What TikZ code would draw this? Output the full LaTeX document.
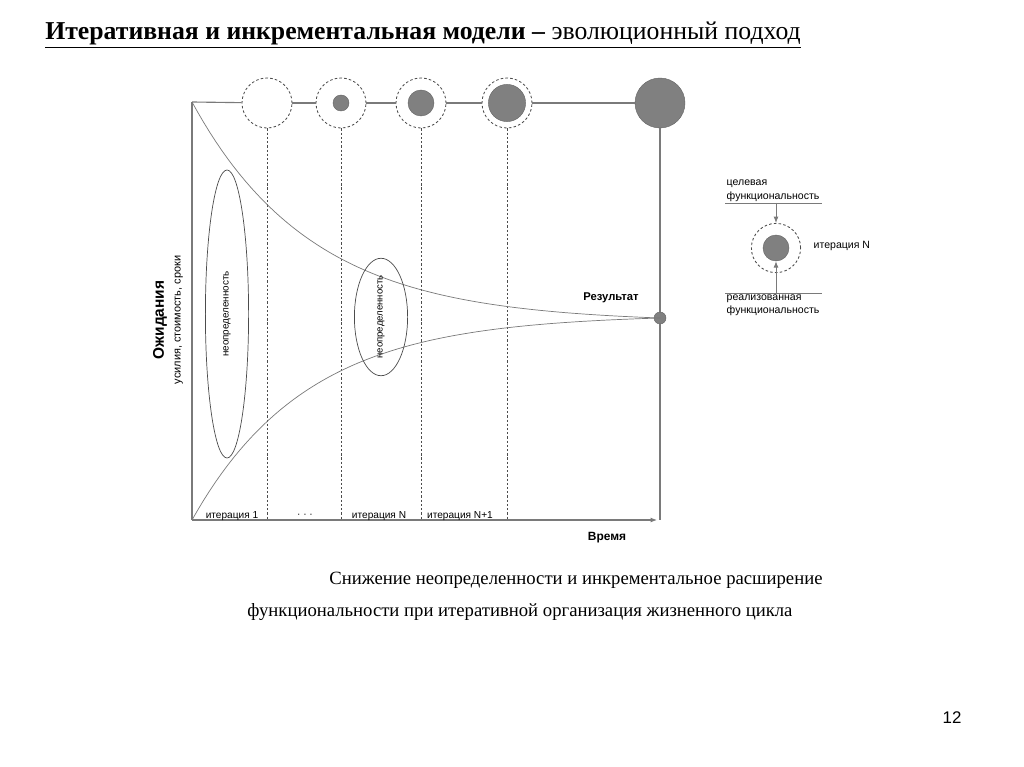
\documentclass[tikz,border=0pt]{standalone}
\usepackage{fontspec}
\setmainfont{Liberation Serif}
\newfontfamily\arial{Liberation Sans}
\usetikzlibrary{arrows.meta,shapes.geometric}
\definecolor{linegray}{HTML}{7A7A7A}
\definecolor{dotgray}{HTML}{808080}
\begin{document}
\begin{tikzpicture}[x=0.025cm, y=-0.025cm,
   axis/.style={draw=linegray, line width=0.8pt},
   curve/.style={draw=linegray, line width=0.5pt},
   grid/.style={draw=black!70, line width=0.5pt, dash pattern=on 1.6pt off 1.4pt},
   ring/.style={circle, draw=black!70, line width=0.6pt, dash pattern=on 1.8pt off 1.6pt, minimum size=1.25cm, inner sep=0pt},
   dot/.style={circle, fill=dotgray, draw=black!60, line width=0.3pt, inner sep=0pt},
   fog/.style={ellipse, draw=black!70, line width=0.5pt, rotate=90, inner sep=0pt, font=\arial\fontsize{7}{8}\selectfont},
   lbl/.style={font=\arial\fontsize{7.2}{8}\selectfont, inner sep=1pt},
   lgd/.style={font=\arial\fontsize{7.5}{9.5}\selectfont, align=left, inner sep=1pt},
   tip/.style={-{Latex[length=4.5pt, width=3.5pt]}}]
   \fill[white] (0,0) rectangle (1024,767);
   \useasboundingbox (0,0) rectangle (1024,767);
   % title
   \node[anchor=west, font=\fontsize{18.3}{20}\selectfont, inner sep=0pt] (title) at (45,35)
      {\underline{\textbf{Итеративная и инкрементальная модели –} эволюционный подход}};
   % frame
   \coordinate (o) at (192,102);
   \coordinate (b) at (192,520);
   \coordinate (e) at (657,520);
   \node[ring] (c1) at (267,103) {};
   \node[ring] (c2) at (341,103) {};
   \node[ring] (c3) at (421,103) {};
   \node[ring] (c4) at (507,103) {};
   \node[dot, minimum size=1.25cm] (c5) at (660,103) {};
   \node[dot, minimum size=0.4cm] at (c2) {};
   \node[dot, minimum size=0.65cm] at (c3) {};
   \node[dot, minimum size=0.93cm] at (c4) {};
   \node[dot, minimum size=0.3cm] (r) at (660,318) {};
   \coordinate (rb) at (660,520);
   \draw[axis] (o) -- (c1);
   \draw[axis] (c1) -- (c2);
   \draw[axis] (c2) -- (c3);
   \draw[axis] (c3) -- (c4);
   \draw[axis] (c4) -- (c5);
   \draw[axis] (c5) -- (r);
   \draw[axis] (r) -- (rb);
   \draw[axis] (o) -- (b);
   \draw[axis, tip] (b) -- (e);
   \foreach \c in {c1,c2,c3,c4}
      \draw[grid] (\c.south) -- (\c.south |- b);
   % curves
   \draw[curve] plot[domain=0:468, samples=80]
      ({192+\x}, {318-216*(exp(-\x/120)-exp(-3.9))/(1-exp(-3.9))});
   \draw[curve] plot[domain=0:468, samples=80]
      ({192+\x}, {318+202*(exp(-\x/115)-exp(-4.07))/(1-exp(-4.07))});
   % uncertainty
   \node[fog, minimum width=7.2cm, minimum height=1.08cm] (u1) at (227,314) {неопределенность};
   \node[fog, minimum width=2.3cm, minimum height=1.33cm, font=\arial\fontsize{6.8}{8}\selectfont] (u2) at (381,317) {неопределенность};
   % labels
   \node[font=\arial\bfseries\fontsize{8}{10}\selectfont] (res) at (611,298) {Результат};
   \node[font=\arial\bfseries\fontsize{8.5}{10}\selectfont] (time) at (607,538) {Время};
   \node[rotate=90, align=center, font=\arial\fontsize{7.8}{12}\selectfont] (ylab) at (168,320)
      {{\bfseries\fontsize{11}{12}\selectfont Ожидания}\\усилия, стоимость, сроки};
   \node[lbl] (i1) at (232,516) {итерация 1};
   \node[lbl] (i2) at (305,516) {· · ·};
   \node[lbl] (i3) at (379,516) {итерация N};
   \node[lbl] (i4) at (460,516) {итерация N+1};
   % legend
   \coordinate (g1) at (725,203);
   \coordinate (g2) at (822,203);
   \coordinate (h1) at (725,293);
   \coordinate (h2) at (822,293);
   \node[ring, minimum size=1.23cm] (lc) at (776,248) {};
   \node[dot, minimum size=0.65cm] (ld) at (lc) {};
   \draw[axis, line width=0.6pt] (g1) -- (g2);
   \draw[axis, line width=0.6pt] (h1) -- (h2);
   \draw[axis, line width=0.6pt, tip] (lc |- g1) -- (lc.north);
   \draw[axis, line width=0.6pt, tip] (lc |- h1) -- (ld.south);
   \node[lgd, anchor=south west] (goal) at (g1) {целевая\\функциональность};
   \node[lgd, anchor=north west] (done) at (h1) {реализованная\\функциональность};
   \node[lgd, anchor=west] (itn) at (812,246) {итерация N};
   % caption
   \node[font=\fontsize{13.3}{15}\selectfont] (cap1) at (576,580)
      {Снижение неопределенности и инкрементальное расширение};
   \node[font=\fontsize{13.3}{15}\selectfont] (cap2) at (520,612)
      {функциональности при итеративной организация жизненного цикла};
   \node[font=\arial\fontsize{12}{14}\selectfont] (page) at (952,718) {12};
\end{tikzpicture}
\end{document}
